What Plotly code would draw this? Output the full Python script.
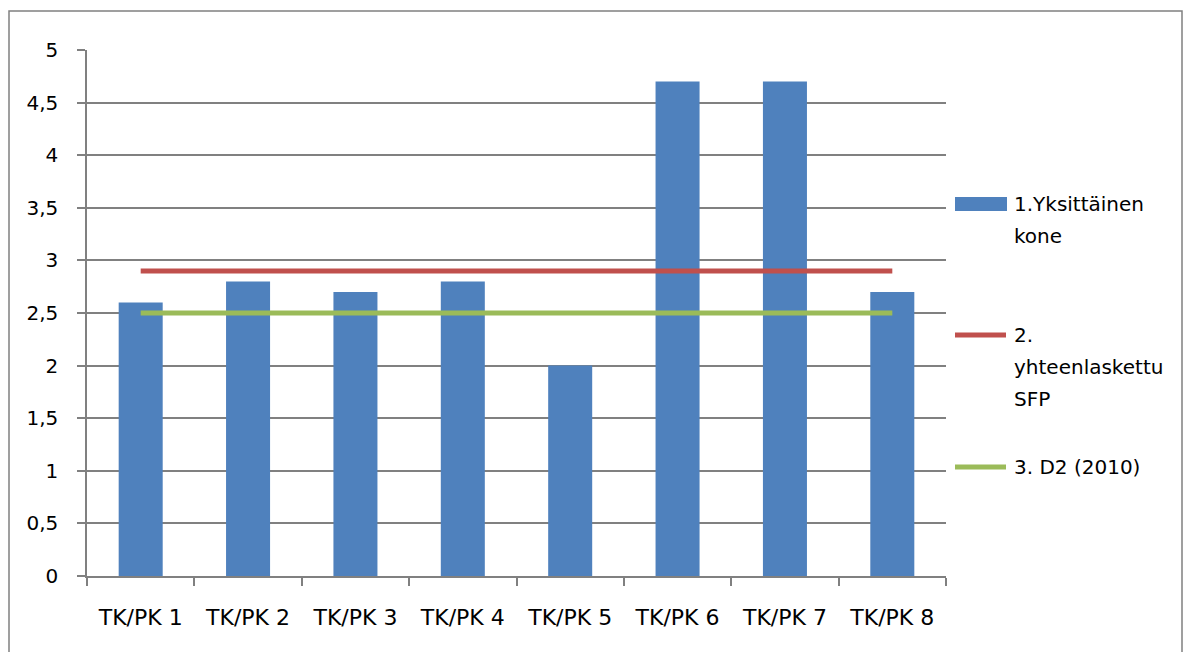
import plotly.graph_objects as go

# Data
categories = ["TK/PK 1", "TK/PK 2", "TK/PK 3", "TK/PK 4",
              "TK/PK 5", "TK/PK 6", "TK/PK 7", "TK/PK 8"]
yksittainen = [2.6, 2.8, 2.7, 2.8, 2.0, 4.7, 4.7, 2.7]
yhteenlaskettu_sfp = [2.9] * 8
d2_2010 = [2.5] * 8

y_tick_vals = [0, 0.5, 1, 1.5, 2, 2.5, 3, 3.5, 4, 4.5, 5]
y_tick_text = ["0", "0,5", "1", "1,5", "2", "2,5", "3", "3,5", "4", "4,5", "5"]

series_names = [["1.Yksittäinen", "kone"],
                ["2.", "yhteenlaskettu", "SFP"],
                ["3. D2 (2010)"]]

BLUE = "#4F81BD"
RED = "#C0504D"
GREEN = "#9BBB59"
GRID = "#808080"
FONT = "DejaVu Sans"

W, H = 1190, 652
L, R, T, B = 87, 244, 50, 76
PW, PH = W - L - R, H - T - B


def px_x(px):
    return (px - L) / PW


def px_y(py):
    return (H - B - py) / PH


fig = go.Figure()
fig.add_trace(go.Bar(x=categories, y=yksittainen, marker_color=BLUE,
                     marker_line_width=0, width=0.41, showlegend=False))
fig.add_trace(go.Scatter(x=categories, y=yhteenlaskettu_sfp, mode="lines",
                         line=dict(color=RED, width=5), showlegend=False))
fig.add_trace(go.Scatter(x=categories, y=d2_2010, mode="lines",
                         line=dict(color=GREEN, width=5), showlegend=False))

# Legend drawn beside the plot area
shapes = []
annotations = []
item_centers = [204, 335, 467]
line_step = 32
for i, (names, yc) in enumerate(zip(series_names, item_centers)):
    if i == 0:
        shapes.append(dict(type="rect", xref="paper", yref="paper",
                           x0=px_x(955), x1=px_x(1007),
                           y0=px_y(yc + 7), y1=px_y(yc - 7),
                           fillcolor=BLUE, line_width=0))
    else:
        shapes.append(dict(type="line", xref="paper", yref="paper",
                           x0=px_x(955), x1=px_x(1006),
                           y0=px_y(yc), y1=px_y(yc),
                           line=dict(color=RED if i == 1 else GREEN, width=5)))
    for j, txt in enumerate(names):
        annotations.append(dict(text=txt, xref="paper", yref="paper",
                                x=px_x(1012), y=px_y(yc + j * line_step),
                                xanchor="left", yanchor="middle",
                                showarrow=False,
                                font=dict(family=FONT, size=20, color="#000000")))

# Chart frame
shapes.append(dict(type="rect", xref="paper", yref="paper",
                   x0=px_x(9), x1=px_x(1182), y0=px_y(670), y1=px_y(11),
                   line=dict(color=GRID, width=1.5), fillcolor="rgba(0,0,0,0)",
                   layer="below"))

fig.update_layout(
    width=W, height=H,
    margin=dict(l=L, r=R, t=T, b=B),
    paper_bgcolor="white", plot_bgcolor="white",
    font=dict(family=FONT, color="#000000"),
    bargap=0.59,
    shapes=shapes,
    annotations=annotations,
    showlegend=False,
)
fig.update_xaxes(
    type="category", showline=True, linecolor=GRID, linewidth=1.5,
    ticks="outside", tickson="boundaries", ticklen=8, tickcolor=GRID,
    tickwidth=1.5, showgrid=False, tickfont=dict(family=FONT, size=22),
    ticklabelstandoff=21,
)
fig.update_yaxes(
    range=[0, 5], tickvals=y_tick_vals, ticktext=y_tick_text,
    showgrid=True, gridcolor=GRID, gridwidth=1.5, zeroline=False,
    showline=True, linecolor=GRID, linewidth=1.5,
    ticks="outside", ticklen=8, tickcolor=GRID, tickwidth=1.5,
    tickfont=dict(family=FONT, size=20), ticklabelstandoff=15,
)

fig.write_html("out.html")
